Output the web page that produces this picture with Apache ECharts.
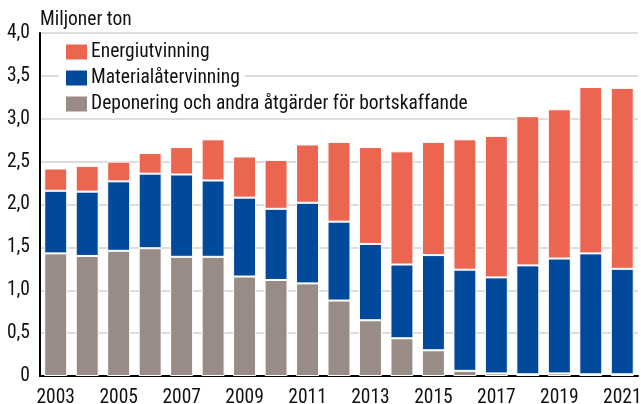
<!DOCTYPE html>
<html><head><meta charset="utf-8">
<script src="https://cdn.jsdelivr.net/npm/echarts@6/dist/echarts.min.js"></script>
<style>html,body{margin:0;padding:0;background:#fff}#c{width:641px;height:404px}</style>
</head><body><div id="c"></div>
<script>
const years = ['2003','2004','2005','2006','2007','2008','2009','2010','2011','2012','2013','2014','2015','2016','2017','2018','2019','2020','2021'];
const deponering = [1.43,1.40,1.46,1.49,1.39,1.39,1.16,1.12,1.08,0.88,0.65,0.44,0.30,0.06,0.03,0.02,0.03,0.02,0.02];
const material = [0.73,0.75,0.81,0.87,0.96,0.89,0.92,0.83,0.94,0.92,0.89,0.86,1.11,1.18,1.12,1.27,1.34,1.41,1.23];
const energi = [0.26,0.30,0.23,0.24,0.32,0.48,0.48,0.57,0.68,0.93,1.13,1.32,1.32,1.52,1.65,1.74,1.74,1.94,2.11];
const names = ['Energiutvinning','Materialåtervinning','Deponering och andra åtgärder för bortskaffande'];
const colors = {e:'#ec6550', m:'#00499b', d:'#998b86'};
const FONT = '"Roboto Condensed", Roboto, sans-serif';
const FS = 19.5;

const chart = echarts.init(document.getElementById('c'), null, {renderer:'canvas'});
function leg(name, top){
  return {show:true, data:[name], left:59, top:top, orient:'vertical', itemWidth:23, itemHeight:17, itemGap:0,
    padding:[2,5,2,5], backgroundColor:'#fff', icon:'rect', selectedMode:false,
    textStyle:{fontFamily:FONT, fontSize:FS, color:'#111', padding:[0,0,0,-2]}};
}
const bar = (name, data, color) => ({name, type:'bar', stack:'s', data, barCategoryGap:'27%',
  itemStyle:{color, borderColor:'#fff', borderWidth:1}});
chart.setOption({
  animation:false,
  textStyle:{fontFamily:FONT},
  title:{text:'Miljoner ton', left:35, top:5, textStyle:{fontFamily:FONT, fontSize:FS, fontWeight:'normal', color:'#111'}},
  legend:[leg(names[0],40), leg(names[1],66), leg(names[2],92)],
  grid:{left:40, right:3, top:33, bottom:28, containLabel:false, outerBoundsMode:'none'},
  xAxis:{type:'category', data:years,
    axisLine:{lineStyle:{color:'#000', width:2}}, axisTick:{show:false},
    axisLabel:{interval:1, fontFamily:FONT, fontSize:FS, color:'#111', margin:12}},
  yAxis:{type:'value', min:0, max:4, interval:0.5,
    axisLine:{show:true, lineStyle:{color:'#000', width:2}}, axisTick:{show:false},
    splitLine:{lineStyle:{color:'#d2d2d2', width:1.5}},
    axisLabel:{fontFamily:FONT, fontSize:FS, color:'#111', margin:10,
      formatter:v => v===0 ? '0' : v.toFixed(1).replace('.',',')}},
  series:[bar(names[2], deponering, colors.d), bar(names[1], material, colors.m), bar(names[0], energi, colors.e)]
});
</script></body></html>
